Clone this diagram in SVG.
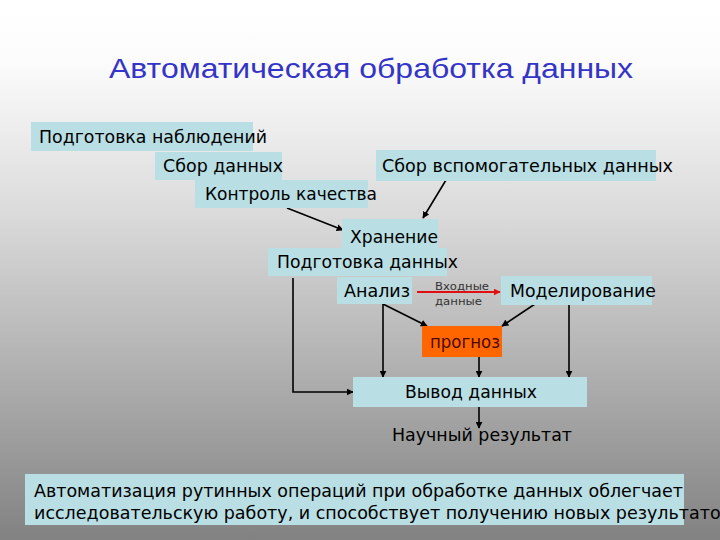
<svg xmlns="http://www.w3.org/2000/svg" width="720" height="540" viewBox="0 0 720 540">
<defs>
<linearGradient id="bg" x1="0" y1="0" x2="0" y2="1">
<stop offset="0" stop-color="#ffffff"/>
<stop offset="0.12" stop-color="#fbfbfb"/>
<stop offset="0.4" stop-color="#dadada"/>
<stop offset="1" stop-color="#828282"/>
</linearGradient>
<marker id="ah" viewBox="0 0 10 10" refX="9" refY="5" markerWidth="7" markerHeight="7" markerUnits="userSpaceOnUse" orient="auto">
<path d="M0,0 L10,5 L0,10 z" fill="#000"/>
</marker>
<marker id="ahr" viewBox="0 0 10 10" refX="9" refY="5" markerWidth="7" markerHeight="7" markerUnits="userSpaceOnUse" orient="auto">
<path d="M0,0 L10,5 L0,10 z" fill="#e01010"/>
</marker>
</defs>
<style>
.box{fill:#b9dee3}
.t{font-family:"DejaVu Sans","Noto Sans",sans-serif;font-size:17px;fill:#000}
.s{font-family:"DejaVu Sans","Noto Sans",sans-serif;font-size:11px;fill:#333}
.c{stroke:#000;stroke-width:1.6;fill:none}
</style>
<rect x="0" y="0" width="720" height="540" fill="url(#bg)"/>
<text x="109" y="78" font-family="Liberation Sans, Arial, sans-serif" font-size="28" fill="#3434c8" textLength="524" lengthAdjust="spacingAndGlyphs">Автоматическая обработка данных</text>

<g id="connectors">
<line class="c" x1="287" y1="208" x2="343" y2="230" marker-end="url(#ah)"/>
<line class="c" x1="446" y1="180" x2="423" y2="218" marker-end="url(#ah)"/>
<line x1="417" y1="292" x2="500" y2="292" stroke="#e01010" stroke-width="2" marker-end="url(#ahr)"/>
<polyline class="c" points="293,278 293,392 353,392" marker-end="url(#ah)"/>
<line class="c" x1="383" y1="304" x2="383" y2="377" marker-end="url(#ah)"/>
<line class="c" x1="383" y1="304" x2="427" y2="326" marker-end="url(#ah)"/>
<line class="c" x1="535" y1="304" x2="502" y2="326" marker-end="url(#ah)"/>
<line class="c" x1="569" y1="305" x2="569" y2="377" marker-end="url(#ah)"/>
<line class="c" x1="479" y1="357" x2="479" y2="377" marker-end="url(#ah)"/>
<line class="c" x1="479" y1="407" x2="479" y2="428" marker-end="url(#ah)"/>
</g>

<g id="n1"><rect class="box" x="31" y="122" width="222" height="29"/><text class="t" x="39" y="143" textLength="228" lengthAdjust="spacingAndGlyphs">Подготовка наблюдений</text></g>
<g id="n2"><rect class="box" x="155" y="152" width="127" height="28"/><text class="t" x="163" y="172" textLength="120" lengthAdjust="spacingAndGlyphs">Сбор данных</text></g>
<g id="n3"><rect class="box" x="195" y="180" width="173" height="28"/><text class="t" x="205" y="200" textLength="172" lengthAdjust="spacingAndGlyphs">Контроль качества</text></g>
<g id="n4"><rect class="box" x="376" y="150" width="280" height="31"/><text class="t" x="382" y="172" textLength="291" lengthAdjust="spacingAndGlyphs">Сбор вспомогательных данных</text></g>
<g id="n5"><rect class="box" x="342" y="219" width="96" height="31"/><text class="t" x="350" y="243" textLength="88" lengthAdjust="spacingAndGlyphs">Хранение</text></g>
<g id="n6"><rect class="box" x="268" y="248" width="179" height="28"/><text class="t" x="277" y="268" textLength="181" lengthAdjust="spacingAndGlyphs">Подготовка данных</text></g>
<g id="n7"><rect class="box" x="337" y="277" width="75" height="27"/><text class="t" x="344" y="297" textLength="66" lengthAdjust="spacingAndGlyphs">Анализ</text></g>
<g id="n8"><text class="s" x="435" y="290" textLength="54" lengthAdjust="spacingAndGlyphs">Входные</text><text class="s" x="435" y="305" textLength="47" lengthAdjust="spacingAndGlyphs">данные</text></g>
<g id="n9"><rect class="box" x="501" y="276" width="151" height="29"/><text class="t" x="510" y="297" textLength="146" lengthAdjust="spacingAndGlyphs">Моделирование</text></g>
<g id="n10"><rect x="422" y="326" width="80" height="31" fill="#ff6600"/><text class="t" x="430" y="348" textLength="70" lengthAdjust="spacingAndGlyphs" style="fill:#4a0800">прогноз</text></g>
<g id="n11"><rect class="box" x="353" y="377" width="234" height="30"/><text class="t" x="405" y="398" textLength="132" lengthAdjust="spacingAndGlyphs">Вывод данных</text></g>
<g id="n12"><text class="t" x="392" y="441" textLength="180" lengthAdjust="spacingAndGlyphs">Научный результат</text></g>
<g id="n13"><rect class="box" x="25" y="474" width="659" height="51"/>
<text class="t" x="34" y="497" textLength="649" lengthAdjust="spacingAndGlyphs">Автоматизация рутинных операций при обработке данных облегчает</text>
<text class="t" x="34" y="519" textLength="697" lengthAdjust="spacingAndGlyphs">исследовательскую работу, и способствует получению новых результатов</text></g>
</svg>
